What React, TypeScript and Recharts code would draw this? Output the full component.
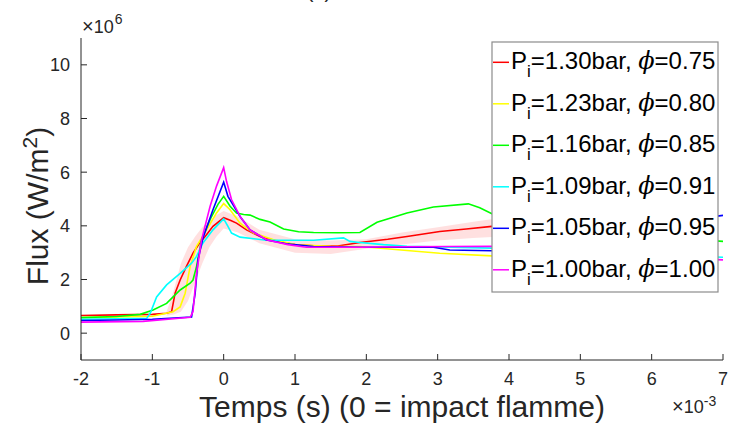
import { Area, ComposedChart, Line, XAxis, YAxis } from "recharts";

// temps en ms (axe affiché ×10^-3), flux en MW/m² (axe affiché ×10^6)
const X_TICKS = [-2, -1, 0, 1, 2, 3, 4, 5, 6, 7];
const Y_TICKS = [0, 2, 4, 6, 8, 10];

const pressures = ["1.30", "1.23", "1.16", "1.09", "1.05", "1.00"];
const phis = ["0.75", "0.80", "0.85", "0.91", "0.95", "1.00"];
const colors = ["#ff0000", "#ffff00", "#00ff00", "#00ffff", "#0000ff", "#ff00ff"];

const redX = [-2, -1.5, -1, -0.8, -0.73, -0.68, -0.61, -0.52, -0.43, -0.34, -0.26, -0.15, 0, 0.1, 0.18, 0.32, 0.51, 0.79, 1.0, 1.26, 1.6, 1.91, 2.3, 2.57, 3.03, 3.4, 3.76, 4.3, 5.0, 5.6];
const redY = [0.66, 0.68, 0.7, 0.74, 0.8, 1.5, 1.98, 2.5, 2.98, 3.35, 3.6, 3.98, 4.3, 4.2, 4.1, 3.85, 3.6, 3.4, 3.3, 3.26, 3.25, 3.38, 3.5, 3.6, 3.79, 3.88, 3.98, 4.1, 4.25, 4.35];

const yellowX = [-2, -1.5, -1, -0.71, -0.61, -0.54, -0.47, -0.38, -0.24, -0.1, 0, 0.09, 0.23, 0.42, 0.7, 1.02, 1.5, 1.91, 2.57, 3.03, 3.76, 4.5, 5.5];
const yellowY = [0.58, 0.6, 0.63, 0.8, 0.98, 1.49, 2.49, 3.24, 3.85, 4.48, 4.83, 4.6, 4.1, 3.73, 3.48, 3.29, 3.24, 3.23, 3.08, 2.98, 2.88, 2.8, 2.7];

const greenX = [-2, -1.5, -1.17, -0.99, -0.8, -0.61, -0.47, -0.43, -0.38, -0.31, -0.19, -0.08, 0, 0.09, 0.18, 0.28, 0.37, 0.51, 0.65, 0.84, 1.05, 1.26, 1.6, 1.91, 2.15, 2.57, 2.94, 3.43, 3.59, 3.76, 4.5, 5.5, 6.3, 7];
const greenY = [0.58, 0.62, 0.7, 0.86, 1.11, 1.61, 1.86, 1.98, 2.49, 3.48, 4.24, 4.8, 5.1, 4.73, 4.48, 4.42, 4.4, 4.24, 4.14, 3.88, 3.78, 3.75, 3.74, 3.75, 4.13, 4.48, 4.7, 4.82, 4.67, 4.45, 4.1, 3.8, 3.55, 3.42];

const cyanX = [-2, -1.5, -1.08, -1.03, -0.94, -0.8, -0.61, -0.45, -0.38, -0.29, -0.15, 0, 0.06, 0.11, 0.23, 0.6, 1.26, 1.68, 1.77, 1.87, 2.24, 2.57, 3.76, 4.5, 5.5, 6.3, 7];
const cyanY = [0.52, 0.54, 0.55, 0.74, 1.35, 1.8, 2.23, 2.61, 2.86, 3.36, 3.85, 4.26, 3.98, 3.73, 3.58, 3.46, 3.46, 3.55, 3.42, 3.39, 3.3, 3.24, 3.17, 3.1, 3.0, 2.9, 2.83];

const blueX = [-2, -1.5, -1, -0.45, -0.4, -0.36, -0.29, -0.15, 0, 0.06, 0.13, 0.23, 0.37, 0.6, 0.88, 1.26, 1.91, 2.5, 2.94, 3.17, 3.76, 4.5, 5.2, 6.0, 6.6, 7];
const blueY = [0.47, 0.49, 0.52, 0.6, 1.48, 2.73, 3.55, 4.6, 5.63, 5.1, 4.79, 4.35, 3.85, 3.47, 3.33, 3.23, 3.2, 3.2, 3.2, 3.1, 3.07, 3.15, 3.4, 3.9, 4.25, 4.39];

const magentaX = [-2, -1.13, -0.47, -0.43, -0.38, -0.31, -0.19, -0.1, 0, 0.04, 0.11, 0.23, 0.37, 0.6, 0.9, 1.16, 1.91, 2.5, 3.76, 4.5, 5.5, 6.3, 7];
const magentaY = [0.41, 0.44, 0.59, 0.8, 2.23, 3.48, 4.73, 5.48, 6.17, 5.66, 4.98, 4.35, 3.85, 3.48, 3.3, 3.2, 3.2, 3.22, 3.24, 3.1, 2.95, 2.82, 2.73];

// bande d'incertitude autour de la courbe rouge
const bandX = [-0.8, -0.7, -0.6, -0.5, -0.4, -0.3, -0.2, -0.1, 0, 0.2, 0.5, 1, 1.5, 2, 2.5, 3, 3.5, 3.9];
const bandLo = [0.65, 0.7, 0.8, 1.2, 1.9, 2.6, 3.2, 3.6, 3.9, 3.75, 3.35, 3.0, 2.95, 3.15, 3.3, 3.45, 3.55, 3.6];
const bandHi = [0.8, 1.6, 2.6, 3.2, 3.6, 3.95, 4.2, 4.4, 4.55, 4.35, 3.85, 3.5, 3.45, 3.5, 3.75, 3.95, 4.15, 4.3];

const seriesX = [redX, yellowX, greenX, cyanX, blueX, magentaX];
const seriesY = [redY, yellowY, greenY, cyanY, blueY, magentaY];

const AXIS = "#262626";
const FONT = '"Liberation Sans", Arial, Helvetica, sans-serif';
const TICK_MARGIN = 11;

const toPoints = (xs: number[], ys: number[]) => xs.map((x, i) => ({ x, y: ys[i] }));
const bandData = bandX.map((x, i) => ({ x, range: [bandLo[i], bandHi[i]] }));

// ticks MATLAB : traits vers l'intérieur
function XTick(props: any) {
  const { x, y, payload } = props;
  const axisY = y - TICK_MARGIN;
  return (
    <g>
      <line x1={x} x2={x} y1={axisY} y2={axisY - 6} stroke={AXIS} />
      <text x={x} y={y + 1} dy="0.71em" textAnchor="middle" fill={AXIS} fontSize={18} fontFamily={FONT}>
        {payload.value}
      </text>
    </g>
  );
}

function YTick(props: any) {
  const { x, y, payload } = props;
  const axisX = x + TICK_MARGIN;
  return (
    <g>
      <line x1={axisX} x2={axisX + 6} y1={y} y2={y} stroke={AXIS} />
      <text x={x} y={y} dy="0.36em" textAnchor="end" fill={AXIS} fontSize={18} fontFamily={FONT}>
        {payload.value}
      </text>
    </g>
  );
}

function XTitle(props: any) {
  const { viewBox } = props;
  return (
    <text x={viewBox.x + viewBox.width / 2} y={viewBox.y + 57} textAnchor="middle" fill={AXIS} fontSize={30} fontFamily={FONT}>
      Temps (s) (0 = impact flamme)
    </text>
  );
}

function YTitle(props: any) {
  const { viewBox } = props;
  const cx = 48;
  const cy = viewBox.y + viewBox.height / 2 + 7;
  return (
    <text x={cx} y={cy} transform={`rotate(-90 ${cx} ${cy})`} textAnchor="middle" fill={AXIS} fontSize={30} fontFamily={FONT}>
      Flux (W/m<tspan fontSize={21} dy={-11}>2</tspan>
      <tspan dy={11}>)</tspan>
    </text>
  );
}

function Overlay() {
  return (
    <svg width={729} height={431} style={{ position: "absolute", left: 0, top: 0, pointerEvents: "none" }}>
      <text x={319} y={-2} textAnchor="middle" fill={AXIS} fontSize={20} fontFamily={FONT}>(a)</text>
      <text x={82} y={33} fill={AXIS} fontSize={18} fontFamily={FONT}>
        <tspan fontSize={20}>×</tspan>10<tspan fontSize={14} dx={1} dy={-9}>6</tspan>
      </text>
      <text x={672} y={413} fill={AXIS} fontSize={18} fontFamily={FONT}>
        <tspan fontSize={20}>×</tspan>10<tspan fontSize={14} dy={-7}>-3</tspan>
      </text>
      <rect x={492} y={42} width={226} height={250} fill="#ffffff" stroke="#8c8c8c" strokeWidth={1.2} />
      {pressures.map((p, i) => {
        const base = 69.3 + i * 41.5;
        return (
          <g key={p + i}>
            <line x1={493} x2={509} y1={base - 7} y2={base - 7} stroke={colors[i]} strokeWidth={1.5} />
            <text x={511} y={base} fill="#000" fontSize={24} fontFamily={FONT}>
              P<tspan fontSize={17} dy={8}>i</tspan>
              <tspan dy={-8}>={p}bar, </tspan>
              <tspan fontStyle="italic" fontFamily='"DejaVu Serif", serif'>ϕ</tspan>={phis[i]}
            </text>
          </g>
        );
      })}
    </svg>
  );
}

export default function App() {
  return (
    <div style={{ position: "absolute", left: 0, top: 0, width: 729, height: 431, background: "#fff" }}>
      <ComposedChart width={729} height={431} margin={{ top: 38, right: 6, bottom: 41, left: 21 }}>
        <XAxis
          dataKey="x"
          type="number"
          domain={[-2, 7]}
          ticks={X_TICKS}
          allowDataOverflow
          height={30}
          stroke={AXIS}
          tickSize={0}
          tickLine={false}
          tickMargin={TICK_MARGIN}
          tick={<XTick />}
          label={{ content: <XTitle /> }}
        />
        <YAxis
          type="number"
          domain={[-1, 11]}
          ticks={Y_TICKS}
          allowDataOverflow
          width={60}
          stroke={AXIS}
          tickSize={0}
          tickLine={false}
          tickMargin={TICK_MARGIN}
          tick={<YTick />}
          label={{ content: <YTitle /> }}
        />
        <Area
          data={bandData}
          dataKey="range"
          type="linear"
          stroke="none"
          fill="#ff0000"
          fillOpacity={0.12}
          isAnimationActive={false}
        />
        {seriesX.map((xs, i) => (
          <Line
            key={colors[i]}
            data={toPoints(xs, seriesY[i])}
            dataKey="y"
            type="linear"
            stroke={colors[i]}
            strokeWidth={1.6}
            dot={false}
            isAnimationActive={false}
          />
        ))}
      </ComposedChart>
      <Overlay />
    </div>
  );
}
